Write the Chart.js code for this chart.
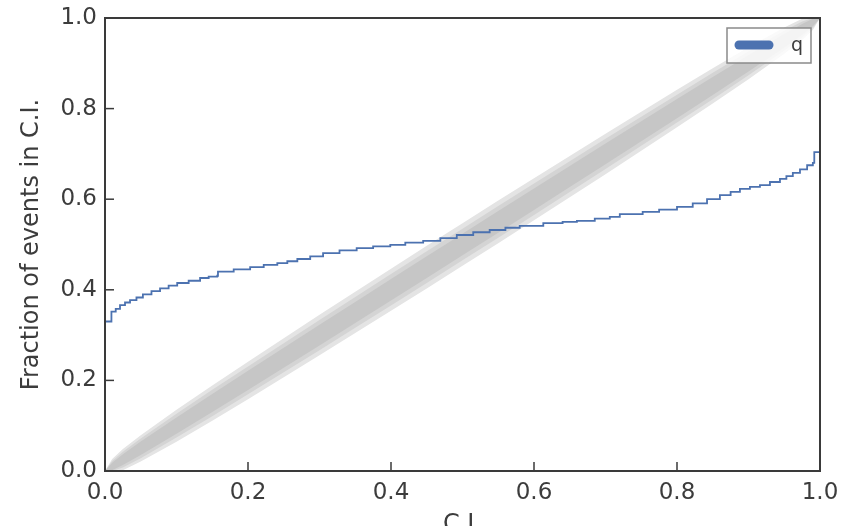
<!DOCTYPE html>
<html>
<head>
<meta charset="utf-8">
<script src="https://cdn.jsdelivr.net/npm/chart.js@4"></script>
<style>
  html, body { margin: 0; padding: 0; background: #fff; }
  #chart { display: block; }
</style>
</head>
<body>
<canvas id="chart" width="852" height="526"></canvas>
<script>
// P-P plot: fraction of events in credible interval vs C.I., with binomial bands.

const SERIES_LABEL = 'q';
const X_TITLE = 'C.I.';
const Y_TITLE = 'Fraction of events in C.I.';
const TICKS = [0, 0.2, 0.4, 0.6, 0.8, 1.0];

// (x = C.I., y = fraction)
const CI_X = [0, 0.009, 0.015, 0.021, 0.028, 0.035, 0.044, 0.053, 0.065, 0.077,
    0.089, 0.101, 0.117, 0.133, 0.145, 0.157, 0.158, 0.180, 0.203, 0.222,
    0.241, 0.255, 0.269, 0.287, 0.305, 0.328, 0.352, 0.375, 0.399, 0.420,
    0.445, 0.469, 0.492, 0.515, 0.538, 0.560, 0.580, 0.613, 0.640, 0.660,
    0.685, 0.706, 0.720, 0.752, 0.775, 0.800, 0.822, 0.842, 0.860, 0.875,
    0.888, 0.902, 0.916, 0.930, 0.944, 0.953, 0.962, 0.972, 0.982, 0.990,
    0.992, 1.0];
const FRACTION = [0.330, 0.352, 0.358, 0.366, 0.372, 0.377, 0.383, 0.390, 0.397, 0.403,
    0.409, 0.415, 0.420, 0.426, 0.429, 0.431, 0.440, 0.445, 0.450, 0.455,
    0.459, 0.463, 0.468, 0.474, 0.481, 0.487, 0.492, 0.496, 0.499, 0.504,
    0.508, 0.514, 0.521, 0.527, 0.532, 0.537, 0.541, 0.547, 0.550, 0.552,
    0.557, 0.561, 0.567, 0.572, 0.577, 0.583, 0.591, 0.600, 0.609, 0.616,
    0.623, 0.627, 0.631, 0.638, 0.645, 0.651, 0.658, 0.666, 0.675, 0.680,
    0.704, 0.704];

// band grid and half widths (inner / middle / outer confidence bands)
const BAND_X = [0, 0.01, 0.025, 0.05, 0.1, 0.15, 0.2, 0.25, 0.3, 0.35, 0.4, 0.45, 0.5,
    0.55, 0.6, 0.65, 0.7, 0.75, 0.8, 0.85, 0.9, 0.95, 0.975, 0.99, 1];
const BAND_INNER = [0, 0.0084, 0.0120, 0.0149, 0.0180, 0.0199, 0.0211, 0.0221, 0.0228, 0.0233, 0.0238, 0.0240, 0.0240,
    0.0240, 0.0238, 0.0233, 0.0228, 0.0221, 0.0211, 0.0199, 0.0180, 0.0149, 0.0120, 0.0084, 0];
const BAND_MID = [0, 0.0123, 0.0175, 0.0217, 0.0263, 0.0291, 0.0308, 0.0322, 0.0333, 0.0340, 0.0347, 0.0350, 0.0350,
    0.0350, 0.0347, 0.0340, 0.0333, 0.0322, 0.0308, 0.0291, 0.0263, 0.0217, 0.0175, 0.0123, 0];
const BAND_OUTER = [0, 0.0165, 0.0235, 0.0291, 0.0353, 0.0390, 0.0414, 0.0432, 0.0447, 0.0456, 0.0465, 0.0470, 0.0470,
    0.0470, 0.0465, 0.0456, 0.0447, 0.0432, 0.0414, 0.0390, 0.0353, 0.0291, 0.0235, 0.0165, 0];

const LINE_COLOR = '#4c72b0';
const BAND_COLORS = ['#c6c6c6', '#d4d4d4', '#e4e4e4'];
const AXIS_COLOR = '#3a3a3a';
const TEXT_COLOR = '#3c3c3c';
const FONT = 'DejaVu Sans';

function curvePoints() {
    return CI_X.map((x, i) => ({ x, y: FRACTION[i] }));
}

function bandEdge(widths, sign) {
    return BAND_X.map((x, i) => ({ x, y: Math.min(1, Math.max(0, x + sign * widths[i])) }));
}

function bandPair(widths, color, loIndex) {
    return [
        { label: 'lo', data: bandEdge(widths, -1), borderWidth: 0, pointRadius: 0, fill: false },
        { label: 'hi', data: bandEdge(widths, 1), borderWidth: 0, pointRadius: 0,
          backgroundColor: color, fill: loIndex }
    ];
}

// box round the plot area + inward tick marks on left and bottom
const frameTicks = {
    id: 'frameTicks',
    afterDatasetsDraw(chart) {
        const { ctx, chartArea: a, scales: { x, y } } = chart;
        ctx.save();
        ctx.strokeStyle = AXIS_COLOR;
        ctx.lineWidth = 1.5;
        TICKS.forEach(v => {
            const px = x.getPixelForValue(v);
            ctx.beginPath(); ctx.moveTo(px, a.bottom); ctx.lineTo(px, a.bottom - 9); ctx.stroke();
            const py = y.getPixelForValue(v);
            ctx.beginPath(); ctx.moveTo(a.left, py); ctx.lineTo(a.left + 9, py); ctx.stroke();
        });
        ctx.lineWidth = 2;
        ctx.strokeRect(a.left, a.top, a.right - a.left, a.bottom - a.top);
        ctx.restore();
    }
};

// matplotlib-like legend box, top right
const boxLegend = {
    id: 'boxLegend',
    afterDraw(chart) {
        const { ctx, chartArea: a } = chart;
        const w = 84, h = 35;
        const bx = a.right - 93, by = a.top + 10;
        ctx.save();
        ctx.fillStyle = 'rgba(255,255,255,0.8)';
        ctx.fillRect(bx, by, w, h);
        ctx.strokeStyle = '#8a8a8a';
        ctx.lineWidth = 1.5;
        ctx.strokeRect(bx, by, w, h);
        ctx.strokeStyle = LINE_COLOR;
        ctx.lineWidth = 9;
        ctx.lineCap = 'round';
        ctx.beginPath();
        ctx.moveTo(bx + 12, by + 17);
        ctx.lineTo(bx + 42, by + 17);
        ctx.stroke();
        ctx.fillStyle = TEXT_COLOR;
        ctx.font = `19px "${FONT}"`;
        ctx.textBaseline = 'middle';
        ctx.fillText(chart.data.datasets[0].label, bx + 64, by + 18);
        ctx.restore();
    }
};

const datasets = [
    { label: SERIES_LABEL, data: curvePoints(), borderColor: LINE_COLOR, borderWidth: 1.8,
      pointRadius: 0, stepped: true, fill: false },
    ...bandPair(BAND_INNER, BAND_COLORS[0], 1),
    ...bandPair(BAND_MID, BAND_COLORS[1], 3),
    ...bandPair(BAND_OUTER, BAND_COLORS[2], 5)
];

const tickFont = { family: FONT, size: 23 };
const titleFont = { family: FONT, size: 24 };

new Chart(document.getElementById('chart'), {
    type: 'line',
    data: { datasets },
    plugins: [frameTicks, boxLegend],
    options: {
        responsive: false,
        animation: false,
        events: [],
        layout: { padding: { top: 18, right: 32, left: 0, bottom: 0 } },
        plugins: {
            legend: { display: false },
            tooltip: { enabled: false }
        },
        scales: {
            x: {
                type: 'linear', min: 0, max: 1,
                grid: { display: false, drawTicks: false },
                border: { display: false },
                ticks: {
                    stepSize: 0.2, color: TEXT_COLOR, font: tickFont, padding: 8,
                    maxRotation: 0, callback: v => v.toFixed(1)
                },
                title: { display: true, text: X_TITLE, color: TEXT_COLOR, font: titleFont,
                         padding: { top: 0, bottom: -13 } },
                afterFit: s => { s.height = 55; s.paddingLeft = 0; s.paddingRight = 0; }
            },
            y: {
                type: 'linear', min: 0, max: 1,
                grid: { display: false, drawTicks: false },
                border: { display: false },
                ticks: {
                    stepSize: 0.2, color: TEXT_COLOR, font: tickFont, padding: 8,
                    callback: v => v.toFixed(1)
                },
                title: { display: true, text: Y_TITLE, color: TEXT_COLOR, font: titleFont,
                         padding: { top: 17, bottom: 0 } },
                afterFit: s => { s.width = 105; s.paddingTop = 0; s.paddingBottom = 0; }
            }
        }
    }
});
</script>
</body>
</html>
